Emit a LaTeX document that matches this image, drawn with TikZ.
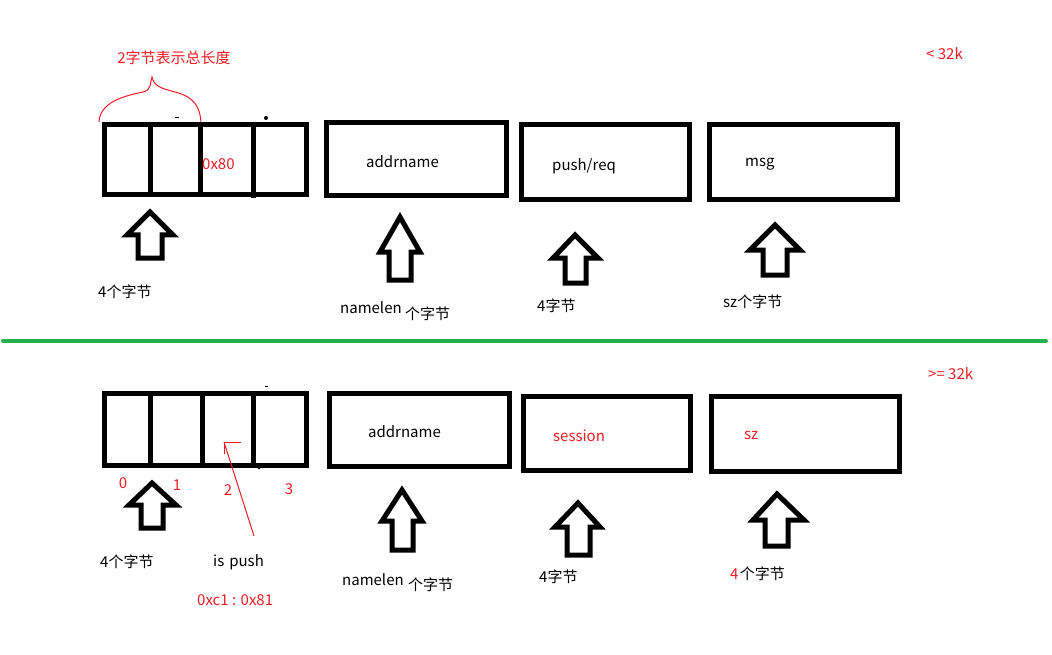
\documentclass[tikz,border=0pt]{standalone}
\usepackage{fontspec}
\setmainfont{Noto Sans CJK SC}
\usepackage{tikz}
\usetikzlibrary{positioning}

\definecolor{inkred}{RGB}{237,28,36}
\definecolor{splitgreen}{RGB}{34,177,76}

\tikzset{
  field/.style={line width=5pt,draw=black},
  uparrow/.style={line width=5pt,draw=black,line join=miter},
  lbl/.style={anchor=west,inner sep=0pt,font=\fontsize{15}{17}\selectfont},
  redlbl/.style={lbl,text=inkred},
  idx/.style={inner sep=0pt,text=inkred,font=\fontsize{15}{17}\selectfont}
}

\begin{document}
\begin{tikzpicture}[x=1pt,y=-1pt]
						\useasboundingbox (0,0) rectangle (1052,655);

						% --- upper half: length < 32k
						\draw[field](104,125) rectangle(306,195);
						\draw[field](150,125) -- (150,195);
						\draw[field](200,125) -- (200,195);
						\draw[field](253,122) -- (253,198);
						\fill (266,118) circle (2pt);
						\draw[line width=1pt] (175,118) -- (179,118);
						\draw[field](326,123) rectangle(506,196);
						\draw[field](521,125) rectangle(689,200);
						\draw[field](709,125) rectangle(897,200);

						\draw[inkred,line width=1pt] (99,122) .. controls (100,100) and (130,95) .. (143,92)
							.. controls (152,90) and (150,82) .. (152,77)
							.. controls (154,86) and (160,88) .. (175,92)
							.. controls (195,97) and (200,108) .. (201,122);
						\node[idx] (total) at (174,58) {2字节表示总长度};
						\node[redlbl] (flag) at (202,164) {0x80};

						\node[lbl] (addrA) at (366,162) {addrname};
						\node[lbl] (kindA) at (552,166) {push/req};
						\node[lbl] (msgA) at (745,164) {msg};
						\node[redlbl] (small) at (926,54) {< 32k};

						\draw[uparrow] (150,212) -- (173,235) -- (162,235) -- (162,258) -- (138,258) -- (138,235) -- (127,235) -- cycle;
						\draw[uparrow] (400,217) -- (420,252) -- (411,252) -- (411,280) -- (389,280) -- (389,252) -- (380,252) -- cycle;
						\draw[uparrow] (575,235) -- (598,258) -- (586,258) -- (586,283) -- (565,283) -- (565,258) -- (553,258) -- cycle;
						\draw[uparrow] (775,225) -- (800,250) -- (787,250) -- (787,275) -- (763,275) -- (763,250) -- (750,250) -- cycle;

						\node[lbl] (headA) at (98,292) {4个字节};
						\node[lbl] (nameA) at (340,308) {namelen};
						\node[lbl] (nameunitA) at (405,314) {个字节};
						\node[lbl] (kindlenA) at (537,306) {4字节};
						\node[lbl] (msglenA) at (723,302) {sz个字节};

						% --- divider
						\draw[splitgreen,line width=4pt,line cap=round] (3,341) -- (1046,341);

						% --- lower half: length >= 32k
						\node[redlbl] (large) at (928,374) {>= 32k};

						\draw[field](104,393) rectangle(306,465);
						\draw[field](150,393) -- (150,465);
						\draw[field](202,393) -- (202,465);
						\draw[field](253,393) -- (253,467);
						\draw[line width=1pt] (265,386) -- (268,386);
						\fill (259,468) circle (1.5pt);
						\draw[field](329,393) rectangle(509,466);
						\draw[field](523,396) rectangle(690,470);
						\draw[field](711,396) rectangle(899,471);

						\node[idx] (b0) at (123,483) {0};
						\node[idx] (b1) at (177,485) {1};
						\node[idx] (b2) at (228,490) {2};
						\node[idx] (b3) at (289,489) {3};

						\node[lbl] (addrB) at (368,432) {addrname};
						\node[redlbl] (session) at (553,436) {session};
						\node[redlbl] (szB) at (744,435) {sz};

						\coordinate (pushtip) at (224,442);
						\coordinate (pushtail) at (254,536);
						\draw[inkred,line width=1pt] (pushtail) -- (pushtip);
						\draw[inkred,line width=1pt] (pushtip) -- ++(17,0);
						\draw[inkred,line width=1pt] (pushtip) -- ++(0,12);

						\draw[uparrow] (152,483) -- (176,505) -- (163,505) -- (163,528) -- (141,528) -- (141,505) -- (129,505) -- cycle;
						\draw[uparrow] (402,490) -- (422,521) -- (413,521) -- (413,550) -- (392,550) -- (392,521) -- (382,521) -- cycle;
						\draw[uparrow] (578,503) -- (600,527) -- (590,527) -- (590,555) -- (567,555) -- (567,527) -- (555,527) -- cycle;
						\draw[uparrow] (777,494) -- (804,520) -- (788,520) -- (788,546) -- (765,546) -- (765,520) -- (753,520) -- cycle;

						\node[lbl] (headB) at (100,562) {4个字节};
						\node[lbl] (ispush) at (213,562) {is\,\,push};
						\node[redlbl] (pushval) at (197,600) {0xc1 : 0x81};
						\node[lbl] (nameB) at (342,580) {namelen};
						\node[lbl] (nameunitB) at (408,585) {个字节};
						\node[lbl] (sesslenB) at (539,577) {4字节};
						\node[redlbl] (szfour) at (730,574) {4};
						\node[lbl,right=1pt of szfour] (szunit) {个字节};
					\end{tikzpicture}
\end{document}
